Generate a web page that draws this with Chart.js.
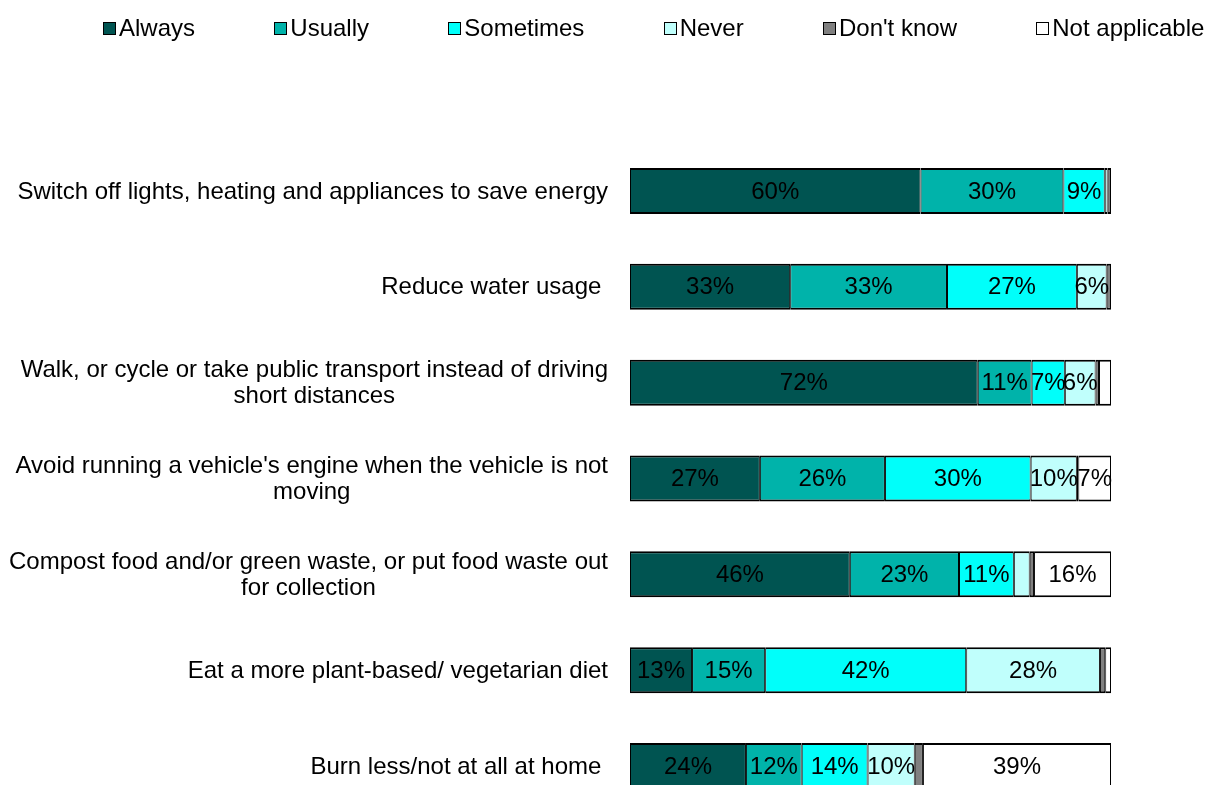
<!DOCTYPE html>
<html>
<head>
<meta charset="utf-8">
<script src="https://cdn.jsdelivr.net/npm/chart.js@4.4.1/dist/chart.umd.min.js"></script>
<style>
  html, body { margin: 0; padding: 0; background: #fff; overflow: hidden; }
  #wrap { position: absolute; left: 0; top: 0; width: 1209px; height: 830px; }
  #legend { position: absolute; left: 103px; top: 14px; display: flex; gap: 79.3px; align-items: center;
    font-family: "Liberation Sans", Arial, sans-serif; font-size: 24px; color: #000; white-space: nowrap; }
  .item { display: flex; align-items: center; }
  .box { width: 11px; height: 11px; border: 1px solid #000; margin-right: 3px; }
</style>
</head>
<body>
<div id="wrap"><canvas id="c"></canvas></div>
<div id="legend"></div>
<script>
const categories = [
  ["Switch off lights, heating and appliances to save energy"],
  ["Reduce water usage "],
  ["Walk, or cycle or take public transport instead of driving", "short distances"],
  ["Avoid running a vehicle's engine when the vehicle is not", "moving"],
  ["Compost food and/or green waste, or put food waste out", "for collection"],
  ["Eat a more plant-based/ vegetarian diet"],
  ["Burn less/not at all at home "]
];
const seriesNames = ["Always", "Usually", "Sometimes", "Never", "Don't know", "Not applicable"];
const always        = [60.4, 33.3, 72.3, 27.0, 45.7, 12.9, 24.1];
const usually       = [29.7, 32.6, 11.2, 26.0, 22.7, 15.2, 11.6];
const sometimes     = [8.6, 27.0, 6.9, 30.3, 11.4, 41.8, 13.7];
const never         = [0.6, 6.2, 6.4, 9.6, 3.3, 27.8, 9.8];
const dontKnow      = [0.7, 0.9, 0.7, 0.3, 0.9, 1.1, 1.7];
const notApplicable = [0, 0, 2.5, 6.8, 16.0, 1.2, 39.1];
const colors = ["#005451", "#00B3AA", "#00FFFA", "#C0FFFC", "#808080", "#FFFFFF"];

const seriesData = [always, usually, sometimes, never, dontKnow, notApplicable];
const FONT = '"Liberation Sans", Arial, sans-serif';
const FSIZE = 24;

// HTML legend
const legendEl = document.getElementById('legend');
seriesNames.forEach((n, i) => {
  const it = document.createElement('div'); it.className = 'item';
  const b = document.createElement('div'); b.className = 'box'; b.style.background = colors[i];
  const t = document.createElement('span'); t.textContent = n;
  it.appendChild(b); it.appendChild(t); legendEl.appendChild(it);
});

const valueLabels = {
  id: 'valueLabels',
  afterDatasetsDraw(chart) {
    const ctx = chart.ctx;
    ctx.save();
    ctx.font = FSIZE + 'px ' + FONT;
    ctx.fillStyle = '#000';
    ctx.textAlign = 'center';
    ctx.textBaseline = 'middle';
    chart.data.datasets.forEach((ds, di) => {
      const meta = chart.getDatasetMeta(di);
      meta.data.forEach((bar, i) => {
        const v = ds.data[i];
        if (v >= 5) {
          const x = (bar.x + bar.base) / 2;
          ctx.fillText(Math.round(v) + '%', x, bar.y + 1);
        }
      });
    });
    ctx.restore();
  }
};

const catLabels = {
  id: 'catLabels',
  afterDraw(chart) {
    const ctx = chart.ctx;
    const ys = chart.scales.y;
    const right = chart.chartArea.left - 22;
    ctx.save();
    ctx.font = FSIZE + 'px ' + FONT;
    ctx.fillStyle = '#000';
    ctx.textAlign = 'center';
    ctx.textBaseline = 'middle';
    categories.forEach((lines, i) => {
      const w = Math.max(...lines.map(l => ctx.measureText(l).width));
      const cx = right - w / 2;
      const yc = ys.getPixelForValue(i);
      const lh = 26;
      const y0 = yc - (lines.length - 1) * lh / 2;
      lines.forEach((l, k) => ctx.fillText(l, cx, y0 + k * lh + 1));
    });
    ctx.restore();
  }
};

new Chart(document.getElementById('c'), {
  type: 'bar',
  data: {
    labels: categories.map(c => c.join(' ')),
    datasets: seriesNames.map((n, i) => ({
      label: n,
      data: seriesData[i],
      backgroundColor: colors[i],
      borderColor: '#000',
      borderWidth: { top: 2, bottom: 2, left: 1, right: 1 },
      borderSkipped: false,
      barPercentage: 0.48,
      categoryPercentage: 1
    }))
  },
  options: {
    indexAxis: 'y',
    responsive: true,
    maintainAspectRatio: false,
    devicePixelRatio: 1,
    animation: false,
    layout: { padding: { top: 143, bottom: 16, left: 0, right: 98 } },
    plugins: { legend: { display: false }, tooltip: { enabled: false } },
    scales: {
      x: { stacked: true, min: 0, max: 100, display: false },
      y: {
        stacked: true,
        grid: { display: false },
        border: { display: false },
        ticks: { display: false },
        afterFit(scale) { scale.width = 630; }
      }
    }
  },
  plugins: [valueLabels, catLabels]
});
</script>
</body>
</html>
